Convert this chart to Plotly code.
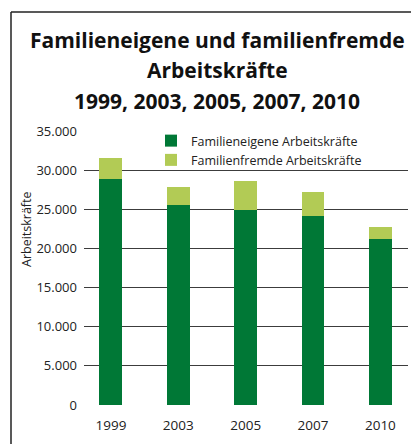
import plotly.graph_objects as go

years = ["1999", "2003", "2005", "2007", "2010"]
familieneigene = [28900, 25500, 24900, 24100, 21200]
gesamt = [31550, 27850, 28600, 27200, 22700]
familienfremde = [g - f for g, f in zip(gesamt, familieneigene)]
y_ticks = [0, 5000, 10000, 15000, 20000, 25000, 30000, 35000]
y_tick_labels = ["0", "5.000", "10.000", "15.000", "20.000", "25.000", "30.000", "35.000"]
title_lines = ["Familieneigene und familienfremde", "Arbeitskräfte", "1999, 2003, 2005, 2007, 2010"]
y_title = "Arbeitskräfte"

FONT = "Open Sans"
fig = go.Figure()
fig.add_bar(x=years, y=familieneigene, name="Familieneigene Arbeitskräfte",
            marker=dict(color="#007836", line=dict(width=0)))
fig.add_bar(x=years, y=familienfremde, name="Familienfremde Arbeitskräfte",
            marker=dict(color="#B2CB55", line=dict(width=0)))

W, H = 411, 444
L, R, T, B = 84, 3, 131, 39
pw, ph = W - L - R, H - T - B

def px(x):
    return (x - L) / pw

def py(y):
    return (H - B - y) / ph

annotations = []
for line, yc in zip(title_lines, [40, 70, 101]):
    annotations.append(dict(
        text="<b>" + line + "</b>", xref="paper", yref="paper",
        x=px(217), y=py(yc), xanchor="center", yanchor="middle", showarrow=False,
        font=dict(family=FONT, size=21, color="#111111"),
    ))
annotations.append(dict(
    text=y_title, xref="paper", yref="paper", x=px(26), y=py(229),
    xanchor="center", yanchor="middle", showarrow=False, textangle=-90,
    font=dict(family=FONT, size=12.5, color="#222222"),
))

fig.update_layout(
    width=W, height=H,
    barmode="stack", bargap=0.66,
    margin=dict(l=L, r=R, t=T, b=B),
    paper_bgcolor="white", plot_bgcolor="white",
    font=dict(family=FONT, color="#222222", size=13),
    annotations=annotations,
    showlegend=True,
    legend=dict(
        x=px(151), y=py(126), xanchor="left", yanchor="top",
        bgcolor="rgba(255,255,255,0)", font=dict(size=12.5, color="#222222"),
        traceorder="normal", itemclick=False,
        tracegroupgap=0,
    ),
    xaxis=dict(range=[-0.4, 4.41], showgrid=False, showline=False, zeroline=False,
               ticks="", tickfont=dict(size=13.5), ticklabelstandoff=10),
    yaxis=dict(range=[0, 35000], tickvals=y_ticks, ticktext=y_tick_labels,
               showgrid=True, gridcolor="#3c3c3c", gridwidth=1.3,
               zeroline=False, showline=False, ticks="", ticklabelstandoff=6,
               tickfont=dict(size=13)),
    shapes=[
        dict(type="line", xref="paper", yref="paper", x0=px(11), x1=px(11),
             y0=py(H + 5), y1=py(12), line=dict(color="#222222", width=1.5)),
        dict(type="line", xref="paper", yref="paper", x0=px(11), x1=px(W + 5),
             y0=py(12), y1=py(12), line=dict(color="#222222", width=1.5)),
    ],
)

fig.write_html("out.html", config={"displayModeBar": False},
               post_script="document.body.style.margin='0px';")
